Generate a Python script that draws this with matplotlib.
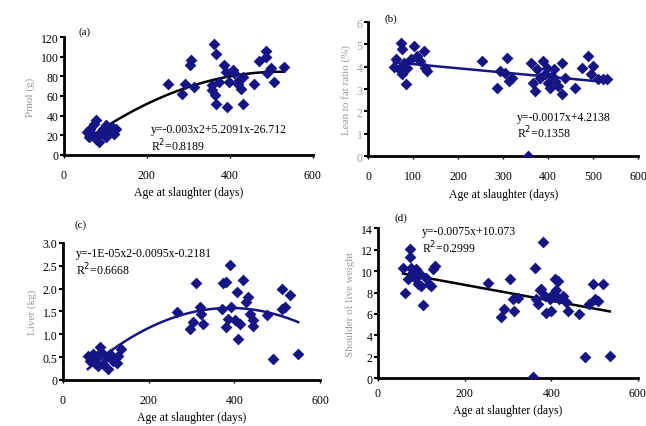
import numpy as np
import matplotlib
matplotlib.use("Agg")
import matplotlib.pyplot as plt

plt.rcParams['font.family'] = ['Liberation Serif', 'DejaVu Serif']

# panel (a)
age_a = [56, 64, 72, 77, 85, 93, 101, 109, 117, 121, 125, 77, 85, 101, 68, 60,
         250, 284, 292, 304, 306, 314, 358, 362, 368, 365, 366, 358, 374, 387,
         391, 394, 398, 407, 411, 419, 423, 427, 431, 431, 459, 471, 487, 487,
         491, 499, 507, 531]
val_a = [23, 26.5, 31.6, 35, 21, 26.5, 30, 25, 28, 21, 26.5, 16, 13, 18, 21, 18,
         72, 62, 72, 91, 97, 69, 71, 113, 103, 61, 52, 66, 74, 91,
         84, 49, 74, 86, 83, 72, 76, 67, 79, 52, 72, 96, 106, 100,
         83, 88, 74, 89]

# panel (b)
age_b = [72, 75, 61, 57, 68, 79, 75, 85, 86, 94, 101, 109, 116, 123, 127, 131,
         253, 286, 293, 304, 308, 312, 319, 356, 361, 367, 370, 375, 382, 389,
         393, 397, 400, 404, 408, 412, 415, 422, 430, 430, 437, 459, 474, 489,
         496, 500, 511, 522, 530]
val_b = [5.07, 4.78, 4.33, 3.99, 3.88, 4.18, 3.66, 3.21, 3.96, 4.33, 4.93, 4.48,
         4.25, 4.70, 3.96, 3.81, 4.25, 3.06, 3.81, 3.73, 4.40, 3.36, 3.51, 0.0,
         4.18, 3.28, 2.91, 3.88, 3.51, 4.25, 3.66, 3.96, 3.28, 3.06, 3.58, 3.88,
         3.36, 3.13, 4.18, 2.76, 3.51, 3.06, 3.96, 4.48, 3.66, 4.03, 3.43, 3.43,
         3.43]

# panel (c)
age_c = [58, 62, 70, 74, 82, 86, 89, 93, 101, 105, 109, 117, 125, 128, 136, 66, 82,
         265, 296, 304, 311, 319, 323, 327, 370, 374, 381, 389, 384, 381, 393,
         401, 405, 409, 412, 420, 428, 432, 436, 443, 443, 475, 490, 510, 510,
         518, 529, 549]
val_c = [0.53, 0.42, 0.56, 0.38, 0.49, 0.71, 0.60, 0.34, 0.49, 0.23, 0.56, 0.42,
         0.38, 0.53, 0.67, 0.49, 0.31,
         1.48, 1.12, 1.26, 2.11, 1.59, 1.45, 1.23, 1.56, 2.11, 2.14, 2.51, 1.34,
         1.15, 1.59, 1.30, 1.92, 0.90, 1.23, 2.18, 1.70, 1.81, 1.45, 1.30, 1.19,
         1.41, 0.45, 2.00, 1.56, 1.59, 1.85, 0.56]

# panel (d)
age_d = [58, 62, 73, 75, 77, 81, 85, 88, 92, 96, 100, 104, 112, 119, 123, 127, 131,
         69, 254, 285, 292, 304, 312, 315, 323, 358, 362, 364, 369, 373, 377, 381,
         385, 388, 396, 400, 404, 408, 412, 415, 419, 427, 435, 438, 465, 477,
         488, 496, 500, 508, 519, 535]
val_d = [10.3, 8.0, 12.05, 11.3, 10.3, 9.9, 9.4, 10.2, 8.8, 9.7, 8.6, 6.8, 9.4,
         8.8, 8.6, 10.2, 10.5, 9.3, 8.9, 5.7, 6.5, 9.3, 7.4, 6.3, 7.5, 0.1, 10.3,
         7.4, 6.9, 8.2, 8.3, 12.7, 7.7, 6.1, 7.4, 6.3, 7.9, 9.3, 8.2, 9.1, 7.4,
         7.7, 7.1, 6.3, 6.0, 2.0, 6.9, 8.8, 7.4, 7.2, 8.8, 2.1]

navy = '#151585'
xlabel = 'Age at slaughter (days)'

fig = plt.figure(figsize=(6.46, 4.27), dpi=100)


def panel(rect, x, y, deg, ylim, yticks, yticklabels, xticks, ylabel, tag,
          eq, r2, eqpos, tagpos, linecolor, xpad=8, ylabcolor='#9a9a9a',
          ytickcolor='black'):
    ax = fig.add_axes(rect)
    ax.scatter(x, y, marker='D', s=36, color=navy, zorder=3, linewidths=0)
    # trendline fitted to the plotted points
    coef = np.polyfit(x, y, deg)
    xs = np.linspace(min(x), max(x), 100)
    ax.plot(xs, np.polyval(coef, xs), color=linecolor, lw=1.8, zorder=2)
    ax.set_xlim(0, 600)
    ax.set_ylim(*ylim)
    ax.set_xticks(xticks)
    ax.set_yticks(yticks)
    ax.set_yticklabels(yticklabels, color=ytickcolor)
    ax.spines['top'].set_visible(False)
    ax.spines['right'].set_visible(False)
    ax.spines['left'].set_linewidth(2)
    ax.spines['bottom'].set_linewidth(2)
    ax.tick_params(axis='y', length=3, width=1.5, labelsize=8.5, pad=1)
    ax.tick_params(axis='x', length=2, width=1, labelsize=8.5, pad=xpad)
    ax.set_xlabel(xlabel, fontsize=8.5, labelpad=4)
    ax.set_ylabel(ylabel, fontsize=8, color=ylabcolor, labelpad=4)
    ax.text(eqpos[0], eqpos[1], eq + '\n' + r2, transform=ax.transAxes,
            fontsize=8.5, va='top', linespacing=1.1)
    fig.text(tagpos[0], tagpos[1], tag, fontsize=8, va='center')
    return ax


panel([0.099, 0.635, 0.385, 0.276], age_a, val_a, 2, (0, 120),
      range(0, 121, 20), ['0', '20', '40', '60', '80', '100', '120'],
      [0, 200, 400, 600], 'Pmol (g)', '(a)',
      'y=-0.003x2+5.2091x-26.712', 'R$^2$=0.8189', (0.35, 0.27),
      (0.122, 0.925), 'black')

panel([0.570, 0.632, 0.418, 0.314], age_b, val_b, 1, (0, 6),
      range(0, 7), [str(v) for v in range(7)],
      range(0, 601, 100), 'Lean to fat ratio (%)', '(b)',
      'y=-0.0017x+4.2138', 'R$^2$=0.1358', (0.55, 0.34),
      (0.595, 0.955), navy, ytickcolor='#a0a0a0')

panel([0.0975, 0.108, 0.398, 0.321], age_c, val_c, 2, (0, 3),
      [0, 0.5, 1, 1.5, 2, 2.5, 3], ['0', '0.5', '1.0', '1.5', '2.0', '2.5', '3.0'],
      [0, 200, 400, 600], 'Liver (kg)', '(c)',
      'y=-1E-05x2-0.0095x-0.2181', 'R$^2$=0.6668', (0.05, 0.97),
      (0.116, 0.472), navy)

panel([0.585, 0.112, 0.4025, 0.351], age_d, val_d, 1, (0, 14),
      range(0, 15, 2), [str(v) for v in range(0, 15, 2)],
      [0, 200, 400, 600], 'Shoulder of live weight', '(d)',
      'y=-0.0075x+10.073', 'R$^2$=0.2999', (0.17, 1.02),
      (0.61, 0.488), 'black', xpad=4)

fig.savefig('out.png', dpi=100)
